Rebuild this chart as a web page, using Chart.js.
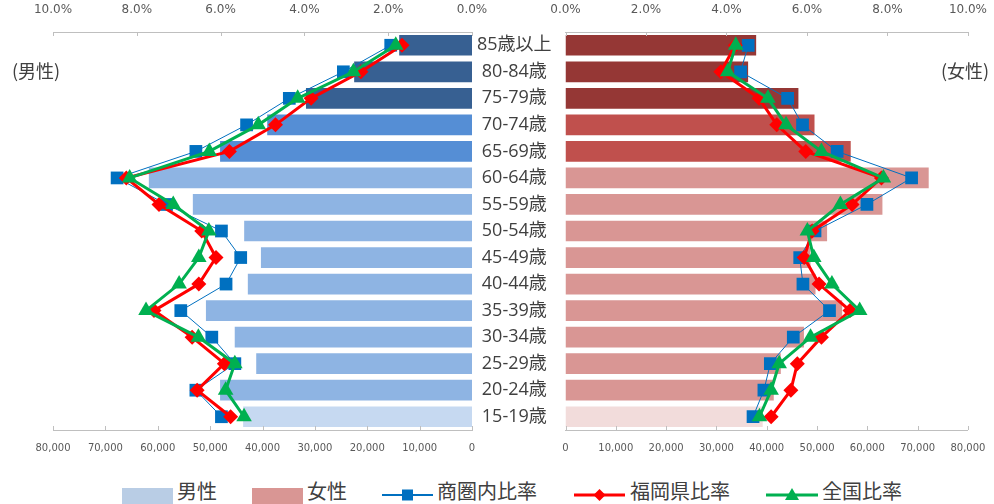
<!DOCTYPE html>
<html>
<head>
<meta charset="utf-8">
<script src="https://cdn.jsdelivr.net/npm/chart.js@4.4.0/dist/chart.umd.min.js"></script>
<style>
  body { margin: 0; width: 994px; height: 504px; background: #fff; position: relative; overflow: hidden;
         font-family: 'Noto Sans CJK JP', sans-serif; color: #404040; }
  canvas { position: absolute; top: 0; }
  #leftChart { left: 0; }
  #rightChart { left: 520px; }
  .side { position: absolute; top: 58px; font-size: 18px; line-height: 24px; }
  .lg { position: absolute; top: 479px; font-size: 20px; line-height: 24px; white-space: nowrap; }
  .sw { position: absolute; top: 488px; width: 51px; height: 16px; }
  .ln { position: absolute; top: 487px; }
</style>
</head>
<body>
<canvas id="leftChart" width="566" height="470"></canvas>
<canvas id="rightChart" width="474" height="470"></canvas>
<div class="side" style="left:12px">(男性)</div>
<div class="side" style="left:941px">(女性)</div>

<!-- 凡例 -->
<div class="sw" style="left:122px;background:#B9CDE5"></div><div class="lg" style="left:177px">男性</div>
<div class="sw" style="left:252px;background:#D99694"></div><div class="lg" style="left:307px">女性</div>
<svg class="ln" style="left:382px" width="51" height="16"><line x1="0" y1="8" x2="51" y2="8" stroke="#0070C0" stroke-width="2"/><rect x="20" y="2.5" width="11" height="11" fill="#0070C0"/></svg>
<div class="lg" style="left:437px">商圏内比率</div>
<svg class="ln" style="left:574px" width="51" height="16"><line x1="0" y1="8" x2="51" y2="8" stroke="#FF0000" stroke-width="3"/><polygon points="25.5,2 31.5,8 25.5,14 19.5,8" fill="#FF0000"/></svg>
<div class="lg" style="left:630px">福岡県比率</div>
<svg class="ln" style="left:766px" width="52" height="16"><line x1="0" y1="8" x2="52" y2="8" stroke="#00B050" stroke-width="3"/><polygon points="26,1 33,13 19,13" fill="#00B050"/></svg>
<div class="lg" style="left:822px">全国比率</div>

<script>
// 年齢区分
const ageLabels = ['85歳以上','80-84歳','75-79歳','70-74歳','65-69歳','60-64歳','55-59歳','50-54歳',
                   '45-49歳','40-44歳','35-39歳','30-34歳','25-29歳','20-24歳','15-19歳'];

// 人口（人）
const malePop   = [13900,22500,31700,39100,48100,61700,53300,43500,40300,42800,50800,45300,41200,48100,43700];
const femalePop = [37900,36300,46300,49500,56700,72200,63000,52000,48700,49700,55000,47400,42800,41400,39200];

// 構成比（%）
const maleArea      = [1.94,3.07,4.36,5.38,6.59,8.47,7.29,5.98,5.52,5.87,6.95,6.21,5.66,6.59,5.98];
const maleFukuoka   = [1.67,2.65,3.84,4.69,5.79,8.25,7.47,6.45,6.11,6.52,7.59,6.68,5.91,6.56,5.76];
const maleJapan     = [1.82,2.83,4.16,5.10,6.27,8.17,7.13,6.28,6.52,6.99,7.78,6.53,5.66,5.88,5.44];
const femaleArea    = [4.54,4.35,5.52,5.89,6.75,8.60,7.49,6.20,5.82,5.90,6.56,5.66,5.09,4.93,4.66];
const femaleFukuoka = [4.22,3.86,4.81,5.25,5.97,7.85,7.12,6.13,5.93,6.30,7.07,6.36,5.76,5.60,5.11];
const femaleJapan   = [4.23,4.03,5.03,5.48,6.36,7.90,6.83,6.01,6.17,6.62,7.31,6.09,5.31,5.11,4.82];

// バーの色（年代グループ別）
const maleColors = ['#376092','#376092','#376092','#558ED5','#558ED5',
  '#8EB4E3','#8EB4E3','#8EB4E3','#8EB4E3','#8EB4E3','#8EB4E3','#8EB4E3','#8EB4E3','#8EB4E3','#C6D9F1'];
const femaleColors = ['#953735','#953735','#953735','#C0504D','#C0504D',
  '#D99694','#D99694','#D99694','#D99694','#D99694','#D99694','#D99694','#D99694','#D99694','#F2DCDB'];

const axisColor = '#BFBFBF';

// 内向きの目盛り線
const innerTicks = {
  id: 'innerTicks',
  afterDatasetsDraw(chart) {
    const ctx = chart.ctx;
    const area = chart.chartArea;
    ctx.save();
    ctx.strokeStyle = axisColor;
    ctx.lineWidth = 1;
    ['cnt', 'pct'].forEach(id => {
      const s = chart.scales[id];
      const y = id === 'pct' ? area.top : area.bottom;
      const dir = id === 'pct' ? 1 : -1;
      s.ticks.forEach(t => {
        const x = Math.round(s.getPixelForValue(t.value)) + 0.5;
        ctx.beginPath();
        ctx.moveTo(x, y);
        ctx.lineTo(x, y + dir * 4);
        ctx.stroke();
      });
    });
    ctx.restore();
  }
};

function lineSet(label, data, color, width, style, radius, order) {
  return {
    type: 'line', label: label, data: data, indexAxis: 'y',
    xAxisID: 'pct', yAxisID: 'y',
    borderColor: color, backgroundColor: color, borderWidth: width,
    pointStyle: style, pointRadius: radius, pointBorderWidth: 0,
    pointBackgroundColor: color, tension: 0, order: order
  };
}

function makeChart(id, pop, colors, area, fukuoka, japan, left) {
  return new Chart(document.getElementById(id), {
    type: 'bar',
    data: {
      labels: ageLabels,
      datasets: [
        { label: left ? '男性' : '女性', data: pop, backgroundColor: colors,
          xAxisID: 'cnt', yAxisID: 'y', categoryPercentage: 1, barPercentage: 0.78, order: 4 },
        lineSet('商圏内比率', area, '#0070C0', 1, 'rect', 9, 3),
        lineSet('福岡県比率', fukuoka, '#FF0000', 3, 'rectRot', 7.5, 2),
        lineSet('全国比率', japan, '#00B050', 3, 'triangle', 9, 1)
      ]
    },
    options: {
      indexAxis: 'y',
      responsive: false,
      animation: false,
      layout: { padding: left ? { left: 53, right: 0, top: 0, bottom: 0 } : { left: 45.5, right: 22, top: 0, bottom: 0 } },
      plugins: { legend: { display: false }, tooltip: { enabled: false } },
      scales: {
        y: {
          display: left,
          position: 'right',
          grid: { display: false },
          border: { display: false },
          afterFit: s => { if (left) s.width = 94; },
          ticks: { crossAlign: 'center', padding: -3, color: '#404040',
                   font: { family: "'Open Sans', 'Noto Sans CJK JP'", size: 18 } }
        },
        cnt: {
          type: 'linear', position: 'bottom', reverse: left, min: 0, max: 80000,
          grid: { display: false },
          border: { display: true, color: axisColor },
          afterFit: s => { s.height = 40; },
          ticks: { stepSize: 10000, padding: 4, maxRotation: 0, autoSkip: false, color: '#595959',
                   font: { family: 'DejaVu Sans', size: 10 },
                   callback: v => v.toLocaleString('en-US') }
        },
        pct: {
          type: 'linear', position: 'top', reverse: left, min: 0, max: 10,
          grid: { display: false },
          border: { display: true, color: axisColor },
          afterFit: s => { s.height = 32; },
          ticks: { stepSize: 2, padding: 7, maxRotation: 0, autoSkip: false, color: '#595959',
                   font: { family: 'DejaVu Sans', size: 12 },
                   callback: v => v.toFixed(1) + '%' }
        }
      }
    },
    plugins: [innerTicks]
  });
}

makeChart('leftChart', malePop, maleColors, maleArea, maleFukuoka, maleJapan, true);
makeChart('rightChart', femalePop, femaleColors, femaleArea, femaleFukuoka, femaleJapan, false);
</script>
</body>
</html>
